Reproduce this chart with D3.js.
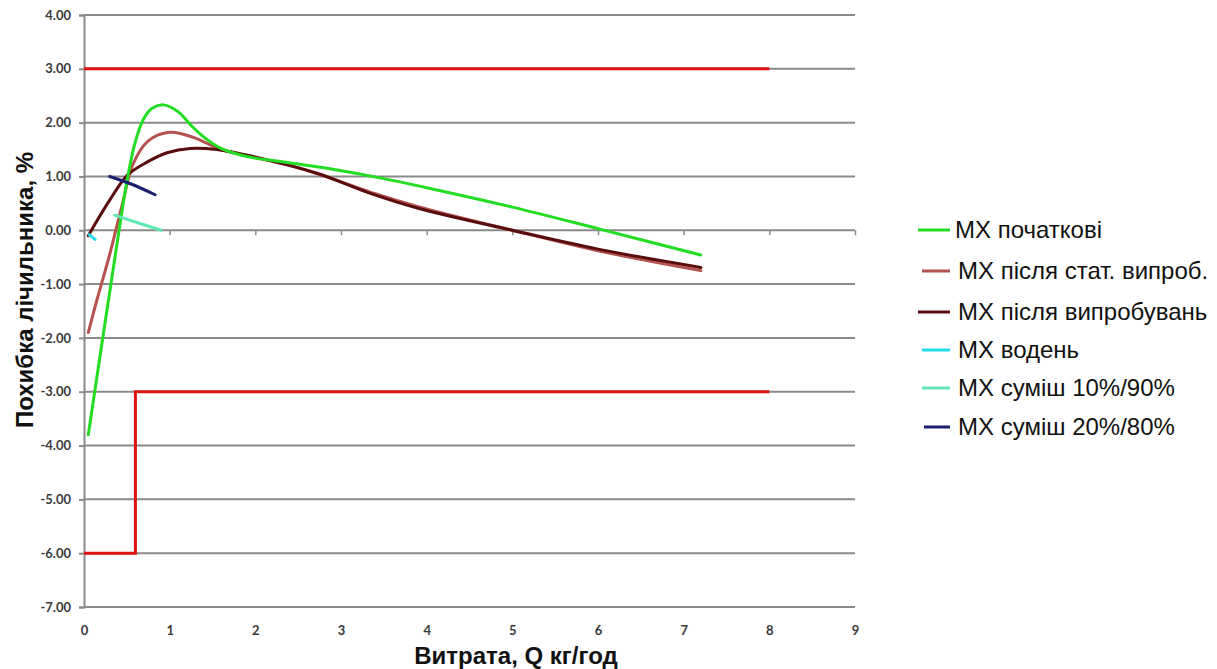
<!DOCTYPE html>
<html><head><meta charset="utf-8">
<script src="https://cdn.jsdelivr.net/npm/d3@7"></script>
<style>body{margin:0;background:#fff}svg{display:block}</style>
</head><body><svg id="c" width="1217" height="669"></svg>
<script>
const xTicks = [0,1,2,3,4,5,6,7,8,9];
const yTicks = [4,3,2,1,0,-1,-2,-3,-4,-5,-6,-7];
const seriesNames = ["МХ початкові","МХ після стат. випроб.","МХ після випробувань","МХ водень","МХ суміш 10%/90%","МХ суміш 20%/80%"];
const seriesColors = ["#22dd22","#b5524f","#5a0d0d","#22dde6","#5fe8b4","#1b1f6e"];
const initialX = [0.05,0.2,0.3,0.4,0.5,0.6,0.7,0.8,0.93,1.1,1.25,1.4,1.6,1.9,2.33,2.8,3.5,4,5,6,7.2];
const initialY = [-3.8,-2.2,-1.15,-0.1,0.9,1.65,2.08,2.27,2.33,2.2,1.95,1.73,1.52,1.37,1.27,1.16,0.96,0.79,0.43,0.03,-0.46];
const statX = [0.05,0.15,0.3,0.45,0.57,0.75,1.0,1.27,1.6,1.95,2.5,3.0,3.4,3.9,5,6,7.2];
const statY = [-1.9,-1.3,-0.45,0.5,1.22,1.66,1.82,1.73,1.5,1.37,1.16,0.9,0.68,0.44,0.0,-0.38,-0.75];
const afterX = [0.05,0.3,0.51,0.74,0.97,1.24,1.55,1.95,2.72,3.3,3.9,5,6,7.2];
const afterY = [-0.1,0.56,1.03,1.27,1.44,1.52,1.5,1.38,1.06,0.71,0.41,0.0,-0.35,-0.69];
const hydrogenX = [0.06,0.13];
const hydrogenY = [-0.08,-0.17];
const mix10X = [0.36,0.47,0.9];
const mix10Y = [0.28,0.22,0.0];
const mix20X = [0.3,0.55,0.83];
const mix20Y = [1.0,0.86,0.66];
const limitUpperX = [0,8];
const limitUpperY = [3,3];
const limitLowerX = [0,0.6,0.6,8];
const limitLowerY = [-6,-6,-3,-3];

const svg = d3.select("#c");
const x = d3.scaleLinear().domain([0,9]).range([84,855]);
const y = d3.scaleLinear().domain([-7,4]).range([607,15]);
const tickFont = "Lato, 'DejaVu Sans', sans-serif";

// gridlines
svg.append("g").selectAll("line").data(yTicks).join("line")
  .attr("x1",x(0)).attr("x2",x(9)).attr("y1",d=>y(d)).attr("y2",d=>y(d))
  .attr("stroke","#8a8a8a").attr("stroke-width",2);
// y axis
const fmt = d=>d3.format(".2f")(d).replace("−","-");
const yAxis = d3.axisLeft(y).tickValues(yTicks).tickFormat(fmt).tickSize(5).tickPadding(8);
const gy = svg.append("g").attr("transform",`translate(${x(0)},0)`).call(yAxis);
gy.select(".domain").attr("stroke","#8a8a8a").attr("stroke-width",2);
gy.selectAll(".tick line").attr("stroke","#8a8a8a").attr("stroke-width",2);
gy.selectAll(".tick text").attr("font-family",tickFont).attr("font-weight","bold").attr("font-size",13).attr("fill","#3a3a3a");
// x axis ticks on zero line
const xAxis = d3.axisBottom(x).tickValues(xTicks).tickSize(5).tickFormat("");
const gx0 = svg.append("g").attr("transform",`translate(0,${y(0)})`).call(xAxis);
gx0.select(".domain").remove();
gx0.selectAll(".tick line").attr("stroke","#8a8a8a").attr("stroke-width",1.5);
// x labels at bottom
const xLab = d3.axisBottom(x).tickValues(xTicks).tickSize(0).tickPadding(19).tickFormat(d3.format("d"));
const gx = svg.append("g").attr("transform",`translate(0,${y(-7)})`).call(xLab);
gx.select(".domain").remove();
gx.selectAll(".tick text").attr("font-family",tickFont).attr("font-weight","bold").attr("font-size",13).attr("fill","#3a3a3a");

// limits
const lineStraight = d3.line().x(d=>x(d[0])).y(d=>y(d[1]));
const zip = (a,b)=>a.map((v,i)=>[v,b[i]]);
svg.append("path").attr("d",lineStraight(zip(limitUpperX,limitUpperY))).attr("fill","none").attr("stroke","#dd1111").attr("stroke-width",3);
svg.append("path").attr("d",lineStraight(zip(limitLowerX,limitLowerY))).attr("fill","none").attr("stroke","#dd1111").attr("stroke-width",3);

// series
const smooth = d3.line().x(d=>x(d[0])).y(d=>y(d[1])).curve(d3.curveCatmullRom.alpha(0.5));
const seriesData = [zip(initialX,initialY),zip(statX,statY),zip(afterX,afterY),zip(hydrogenX,hydrogenY),zip(mix10X,mix10Y),zip(mix20X,mix20Y)];
const order = [1,2,0,3,4,5];
order.forEach(i=>{
  svg.append("path").attr("d",smooth(seriesData[i])).attr("fill","none")
    .attr("stroke",seriesColors[i]).attr("stroke-width",3).attr("stroke-linecap","round");
});

// legend
const legY = [230,271,312,350,388,427];
const legX1 = [918,922,918,922,922,924];
const legTX = [955,958,958,958,958,958];
const lg = svg.append("g");
seriesNames.forEach((n,i)=>{
  lg.append("line").attr("x1",legX1[i]).attr("x2",950).attr("y1",legY[i]).attr("y2",legY[i])
    .attr("stroke",seriesColors[i]).attr("stroke-width",3);
  lg.append("text").attr("x",legTX[i]).attr("y",legY[i]).attr("dy","0.35em")
    .attr("font-family","'Liberation Sans', Arial, sans-serif").attr("font-size",24).attr("fill","#111").text(n);
});

// axis titles
svg.append("text").attr("x",516).attr("y",664).attr("text-anchor","middle")
  .attr("font-family","'Liberation Sans', Arial, sans-serif").attr("font-weight","bold").attr("font-size",24).attr("fill","#111")
  .text("Витрата, Q кг/год");
svg.append("text").attr("transform","translate(33,290) rotate(-90)").attr("text-anchor","middle")
  .attr("font-family","'Liberation Sans', Arial, sans-serif").attr("font-weight","bold").attr("font-size",24).attr("fill","#111")
  .text("Похибка лічильника, %");
</script></body></html>
